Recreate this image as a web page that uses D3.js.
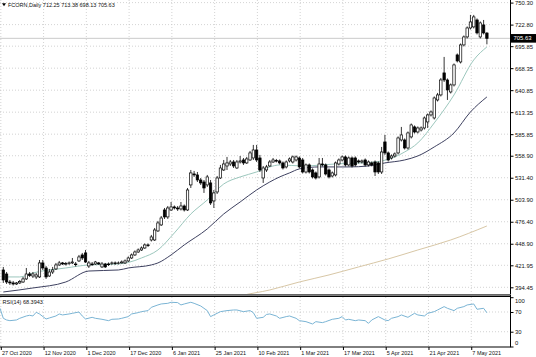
<!DOCTYPE html>
<html><head><meta charset="utf-8">
<script src="https://cdn.jsdelivr.net/npm/d3@7"></script>
<style>
html,body{margin:0;padding:0;background:#fff;}
svg{display:block;font-family:"Liberation Sans",Arial,sans-serif;}
</style></head><body>
<svg id="c" width="536" height="357"></svg>
<script>
// ---------------- DATA ----------------
const symbol = "FCORN,Daily";
const lastOHLC = [712.25, 713.38, 698.13, 705.63];
const rsiLabel = "RSI(14) 68.3943";

const opens = [
416.1,411.1,401.1,399.9,398.6,399.9,401.1,404.9,411.1,408.6,
407.4,407.4,424.9,418.6,408.6,413.6,417.4,422.4,424.9,423.6,
424.2,424.9,423.6,427.4,434.9,437.4,421.1,423.6,423.6,424.9,
419.9,423.6,423.6,424.2,424.9,424.2,424.9,424.9,427.4,431.1,
434.9,438.6,441.1,443.6,447.4,453.6,453.6,464.9,472.4,491.1,
482.4,491.1,494.9,493.6,492.4,496.1,491.1,522.4,536.1,534.9,
528.6,526.1,522.4,524.9,502.4,513.6,531.1,541.1,546.1,548.6,
551.1,543.6,551.1,553.6,549.9,553.6,556.1,566.1,556.1,531.1,
541.1,546.1,551.1,553.0,552.4,549.9,544.9,552.4,551.1,553.6,
556.1,553.6,538.6,547.4,541.1,537.4,532.4,548.6,547.4,541.1,
533.6,534.9,548.6,553.6,557.4,547.4,556.1,556.1,552.4,551.1,
553.6,547.4,549.9,551.1,549.9,538.6,576.1,562.4,556.1,558.6,
562.4,578.6,578.6,568.6,582.4,594.9,588.6,591.1,593.6,601.1,
609.9,606.1,628.6,634.9,662.4,653.6,638.6,647.4,684.9,676.1,
697.4,707.4,718.6,719.9,728.6,707.4,722.4,712.25];
const highs = [
419.9,413.6,403.6,402.4,401.1,403.6,407.4,418.6,413.6,413.6,
412.4,428.6,428.6,421.1,417.4,419.9,424.9,427.4,426.1,426.1,
426.7,431.1,426.1,434.9,437.4,441.1,427.4,426.1,427.4,426.1,
426.1,424.9,425.5,426.7,426.7,426.7,428.0,429.2,433.0,436.7,
440.5,443.0,445.5,449.2,449.2,459.9,468.6,477.4,483.6,493.6,
496.1,501.1,496.7,496.1,501.1,498.0,518.6,541.1,539.9,538.6,
531.1,528.6,534.9,528.6,516.1,533.6,547.4,553.6,557.4,553.6,
553.6,553.6,558.6,556.1,557.4,564.9,572.4,572.4,559.9,546.1,
547.4,553.6,556.1,554.9,554.2,551.7,553.0,556.7,559.2,559.2,
558.0,556.1,549.2,549.2,543.0,539.2,556.1,556.1,549.2,543.0,
539.2,551.7,555.5,559.2,559.2,558.0,558.0,558.0,554.2,554.2,
555.5,553.0,551.7,553.0,551.7,569.9,584.9,564.2,560.5,563.0,
583.0,594.9,580.5,589.2,599.2,596.7,595.5,595.5,608.0,611.7,
615.5,633.0,637.4,656.1,682.4,655.5,649.2,674.2,686.7,699.2,
709.2,720.5,734.9,734.9,730.5,726.7,728.6,713.38];
const lows = [
399.9,398.6,397.4,396.7,397.4,398.6,399.9,403.6,407.4,406.1,
404.9,406.1,416.1,404.9,407.4,411.1,416.1,421.1,422.4,421.7,
422.4,423.6,420.5,426.1,428.6,424.9,418.6,421.1,422.4,422.4,
418.6,418.6,421.1,422.4,422.4,423.0,424.2,423.6,426.1,429.9,
433.6,437.4,439.9,442.4,444.9,451.7,452.4,463.6,471.1,479.9,
479.9,489.9,491.7,489.9,490.5,489.2,489.9,518.6,532.4,526.1,
522.4,512.4,519.9,497.4,493.6,511.1,529.9,539.9,541.1,546.1,
543.6,542.4,549.2,547.4,548.6,552.4,553.6,551.1,538.6,524.9,
538.6,544.9,549.9,550.5,548.0,541.7,543.0,550.5,549.2,551.7,
543.0,536.7,536.7,536.7,530.5,529.2,530.5,545.5,534.2,530.5,
531.7,533.0,546.7,551.7,545.5,545.5,544.2,545.5,549.2,549.2,
545.5,545.5,545.5,533.6,536.1,536.1,559.9,551.7,554.2,556.7,
560.5,576.7,566.7,566.7,580.5,586.7,586.7,589.2,591.7,593.6,
608.0,604.2,626.7,633.0,651.1,628.6,636.7,645.5,675.5,674.2,
695.5,705.5,716.7,718.0,710.5,705.5,710.5,698.13];
const closes = [
403.6,401.1,399.9,398.6,399.9,401.7,404.9,411.1,409.2,411.1,
409.9,424.9,418.6,407.4,413.6,416.1,422.4,424.9,423.6,424.2,
424.9,426.1,423.0,432.4,431.1,426.1,424.9,423.0,426.1,423.6,
423.6,419.9,423.0,424.9,424.2,424.9,426.1,427.4,431.1,434.9,
438.6,441.1,443.6,447.4,446.7,457.4,466.1,474.9,481.1,482.4,
493.6,494.9,493.6,492.4,496.1,491.1,516.1,537.4,534.9,528.6,
524.9,518.6,532.4,499.9,512.4,531.1,543.6,548.6,549.9,551.1,
546.1,551.1,552.4,549.9,554.9,562.4,566.1,553.6,541.1,543.6,
544.9,551.1,553.6,552.4,549.9,543.6,551.1,554.9,557.4,557.4,
544.9,538.6,547.4,538.6,532.4,531.1,548.6,547.4,536.1,532.4,
537.4,549.9,553.6,557.4,547.4,556.1,546.1,547.4,551.1,552.4,
547.4,551.1,547.4,538.6,538.6,563.6,562.4,553.6,558.6,561.1,
581.1,584.9,568.6,587.4,597.4,588.6,593.6,593.6,606.1,609.9,
613.6,631.1,634.9,653.6,653.6,641.1,647.4,672.4,677.4,697.4,
707.4,718.6,726.1,732.4,712.4,724.9,712.4,705.63];

// moving averages (bar index, value)
const maFastIdx = [0,5,9,19,26,35,38,42,47,52,57,62,67,72,77,81,84,91,101,113,119,122,126,131,137,143,147];
const maFastVal = [407.4,407.4,412.4,418.6,422.4,423.6,425.5,431.1,441.1,462.4,486.1,503.6,523.6,532.4,538.6,544.9,547.4,546.1,548.6,551.1,557.4,563.6,574.9,599.9,634.9,678.6,694.9];
const maSlowIdx = [0,9,19,26,35,38,45,47,51,55,62,67,72,77,81,84,87,90,96,105,111,116,122,126,131,137,142,147];
const maSlowVal = [388.6,393.6,401.1,414.8,416.1,418.6,422.4,424.9,434.9,447.4,467.4,486.1,501.1,516.1,526.1,532.4,537.4,542.4,544.9,544.9,546.1,549.9,553.6,558.6,569.9,587.4,613.6,632.4];
const maLongIdx = [66,72,81,90,99,108,117,126,136,147];
const maLongVal = [376.0,383.6,391.1,401.1,409.9,419.9,429.9,441.1,453.6,471.1];

// RSI(14)
const rsiIdx = [-1,0,1,2,4,5,7,8,9,10,11,13,14,16,17,18,20,21,23,24,25,27,28,30,32,33,35,36,38,39,41,42,44,45,47,48,50,51,53,54,55,57,58,60,62,63,64,66,68,70,71,73,75,76,77,79,80,81,83,84,86,87,89,90,92,94,95,97,98,100,102,103,104,105,107,108,110,111,112,114,116,117,118,120,121,123,125,126,128,129,131,132,134,135,137,138,140,141,143,144,146,147];
const rsiVal = [77.5,57.2,53.8,52.4,53.8,57.2,61.9,63.3,61.9,69.4,66.0,55.8,57.9,61.9,66.0,64.0,66.0,67.3,70.0,61.9,55.8,59.2,57.2,55.2,52.4,55.2,55.8,57.2,60.6,66.0,68.7,70.7,72.8,79.5,84.3,86.3,87.6,89.7,89.0,84.3,86.3,89.7,87.6,82.2,72.8,60.6,64.0,70.7,72.8,74.1,74.1,70.7,72.8,68.7,57.2,59.2,65.0,66.0,61.9,57.2,60.6,61.9,57.2,52.4,50.4,45.7,50.4,48.4,50.4,55.2,57.2,60.6,53.8,55.2,52.4,53.8,52.4,47.0,53.8,60.6,53.8,52.4,57.2,60.6,64.0,59.2,67.3,64.0,61.9,67.3,70.7,74.1,80.9,77.5,72.8,77.5,80.9,84.3,86.3,75.5,77.5,68.39];

const priceTicks = [394.45,421.95,448.90,476.40,503.90,531.40,558.90,585.85,613.35,640.85,668.35,695.85,722.80,750.30];
const rsiTicks = [100,70,30,0];
const rsiLevels = [70,30];
const dateIdx = [0,13,26,39,52,65,78,91,104,117,130,143];
const dateLabels = ["27 Oct 2020","12 Nov 2020","1 Dec 2020","17 Dec 2020","6 Jan 2021","25 Jan 2021","10 Feb 2021","1 Mar 2021","17 Mar 2021","5 Apr 2021","21 Apr 2021","7 May 2021"];

// ---------------- LAYOUT ----------------
const svg = d3.select("#c");
const plotR = 510, mainBot = 294, rsiTop = 297, rsiBot = 346.5;
const x = d3.scaleLinear().domain([0, 147]).range([3.3, 486.9]);
const xGrid = d3.scaleLinear().domain([0, 147]).range([0.8, 484.4]);
const y = d3.scaleLinear().domain([394.45, 750.30]).range([287.3, 2.6]);
const yr = d3.scaleLinear().domain([0, 100]).range([rsiBot, rsiTop + 0.2]);
const gridCol = "#c8c8c8";

svg.append("rect").attr("width",536).attr("height",357).attr("fill","#fff");
const defs = svg.append("defs");
defs.append("clipPath").attr("id","cm").append("rect").attr("x",0).attr("y",0).attr("width",plotR).attr("height",mainBot);
defs.append("clipPath").attr("id","cr").append("rect").attr("x",0).attr("y",rsiTop).attr("width",plotR).attr("height",rsiBot-rsiTop);

// grid
const grid = svg.append("g").attr("stroke",gridCol).attr("stroke-width",0.8).attr("stroke-dasharray","1,2");
grid.selectAll(".hg").data(priceTicks).join("line")
  .attr("x1",0).attr("x2",plotR).attr("y1",d=>y(d)).attr("y2",d=>y(d));
grid.selectAll(".vg").data(dateIdx).join("line")
  .attr("x1",d=>xGrid(d)).attr("x2",d=>xGrid(d)).attr("y1",0).attr("y2",mainBot);
grid.selectAll(".vr").data(dateIdx).join("line").attr("class","vr")
  .attr("x1",d=>xGrid(d)).attr("x2",d=>xGrid(d)).attr("y1",rsiTop).attr("y2",rsiBot);
grid.selectAll(".rl").data(rsiLevels).join("line").attr("class","rl")
  .attr("x1",0).attr("x2",plotR).attr("y1",d=>yr(d)).attr("y2",d=>yr(d));

// main chart
const main = svg.append("g").attr("clip-path","url(#cm)");
main.append("line").attr("x1",0).attr("x2",plotR)
  .attr("y1",y(lastOHLC[3])).attr("y2",y(lastOHLC[3]))
  .attr("stroke","#bcbcbc").attr("stroke-width",0.8);

const lineGen = (idx, val) => d3.line().curve(d3.curveMonotoneX)
  .x((d,i)=>x(idx[i])).y((d,i)=>y(val[i]))(val);
main.append("path").attr("d",lineGen(maLongIdx,maLongVal)).attr("fill","none").attr("stroke","#d8c7a6").attr("stroke-width",1);
main.append("path").attr("d",lineGen(maSlowIdx,maSlowVal)).attr("fill","none").attr("stroke","#3e4160").attr("stroke-width",1);
main.append("path").attr("d",lineGen(maFastIdx,maFastVal)).attr("fill","none").attr("stroke","#9cc7bd").attr("stroke-width",1);

const bars = opens.map((o,i)=>({i, o, h:highs[i], l:lows[i], c:closes[i]}));
const cg = main.append("g");
cg.selectAll(".wick").data(bars).join("line")
  .attr("x1",d=>x(d.i)).attr("x2",d=>x(d.i))
  .attr("y1",d=>y(Math.max(d.h,d.o,d.c))).attr("y2",d=>y(Math.min(d.l,d.o,d.c)))
  .attr("stroke","#000").attr("stroke-width",0.8);
const bw = 2.4;
cg.selectAll(".body").data(bars).join("rect")
  .attr("x",d=>x(d.i)-bw/2).attr("width",bw)
  .attr("y",d=>y(Math.max(d.o,d.c)))
  .attr("height",d=>Math.max(0.7, Math.abs(y(d.o)-y(d.c))))
  .attr("fill",d=> d.c>=d.o ? "#fff" : "#000")
  .attr("stroke","#000").attr("stroke-width",0.7);

// RSI
const rg = svg.append("g").attr("clip-path","url(#cr)");
rg.append("path").attr("d", d3.line().x((d,i)=>x(rsiIdx[i])).y(d=>yr(d))(rsiVal))
  .attr("fill","none").attr("stroke","#7ab4d4").attr("stroke-width",1);

// frames
svg.append("line").attr("x1",plotR+0.5).attr("x2",plotR+0.5).attr("y1",0).attr("y2",rsiBot+0.5).attr("stroke","#000").attr("stroke-width",1);
svg.append("line").attr("x1",0).attr("x2",plotR+1).attr("y1",mainBot+0.5).attr("y2",mainBot+0.5).attr("stroke","#666").attr("stroke-width",1);
svg.append("line").attr("x1",0).attr("x2",plotR+1).attr("y1",296.2).attr("y2",296.2).attr("stroke","#000").attr("stroke-width",1.4);
svg.append("line").attr("x1",0).attr("x2",plotR+1).attr("y1",rsiBot+0.5).attr("y2",rsiBot+0.5).attr("stroke","#000").attr("stroke-width",1);

const fs = "5.9px", fsd = "5.5px";
const yAxis = d3.axisRight(y).tickValues(priceTicks).tickFormat(d3.format(".2f")).tickSize(3).tickPadding(1.5);
const ya = svg.append("g").attr("transform",`translate(${plotR+0.5},0)`).call(yAxis);
ya.select(".domain").remove();
ya.selectAll("line").attr("stroke","#000");
ya.selectAll("text").attr("font-size",fs).attr("fill","#111").attr("font-family","Liberation Sans, Arial, sans-serif");

const rAxis = d3.axisRight(yr).tickValues(rsiTicks).tickFormat(d3.format("d")).tickSize(3).tickPadding(1.5);
const ra = svg.append("g").attr("transform",`translate(${plotR+0.5},0)`).call(rAxis);
ra.select(".domain").remove();
ra.selectAll("line").attr("stroke","#000");
ra.selectAll("text").attr("font-size",fs).attr("fill","#111").attr("font-family","Liberation Sans, Arial, sans-serif")
  .attr("y",d=> d===100 ? 3.5 : (d===0 ? -3.8 : 0));

const xAxis = d3.axisBottom(xGrid).tickValues(dateIdx).tickFormat((d,i)=>dateLabels[i]).tickSize(3).tickPadding(1);
const xa = svg.append("g").attr("transform",`translate(0,${rsiBot+0.5})`).call(xAxis);
xa.select(".domain").remove();
xa.selectAll("line").attr("stroke","#000");
xa.selectAll("text").attr("font-size",fsd).attr("fill","#111").attr("text-anchor","start").attr("x",0.6)
  .attr("font-family","Liberation Sans, Arial, sans-serif");

const ly = y(lastOHLC[3]);
svg.append("rect").attr("x",plotR+1).attr("y",ly-4.3).attr("width",25).attr("height",8.6).attr("fill","#000");
svg.append("text").attr("x",plotR+3.5).attr("y",ly).attr("dy","0.35em").attr("font-size",fs).attr("fill","#fff")
  .text(d3.format(".2f")(lastOHLC[3]));

svg.append("path").attr("d","M2,3.2 L6,3.2 L4,6.2 Z").attr("fill","#000");
svg.append("text").attr("x",8).attr("y",7.2).attr("font-size",fsd).attr("fill","#111")
  .text(symbol + "  " + lastOHLC.map(d3.format(".2f")).join(" "));
svg.append("text").attr("x",2.5).attr("y",303.8).attr("font-size",fsd).attr("fill","#111").text(rsiLabel);
</script>
</body></html>
